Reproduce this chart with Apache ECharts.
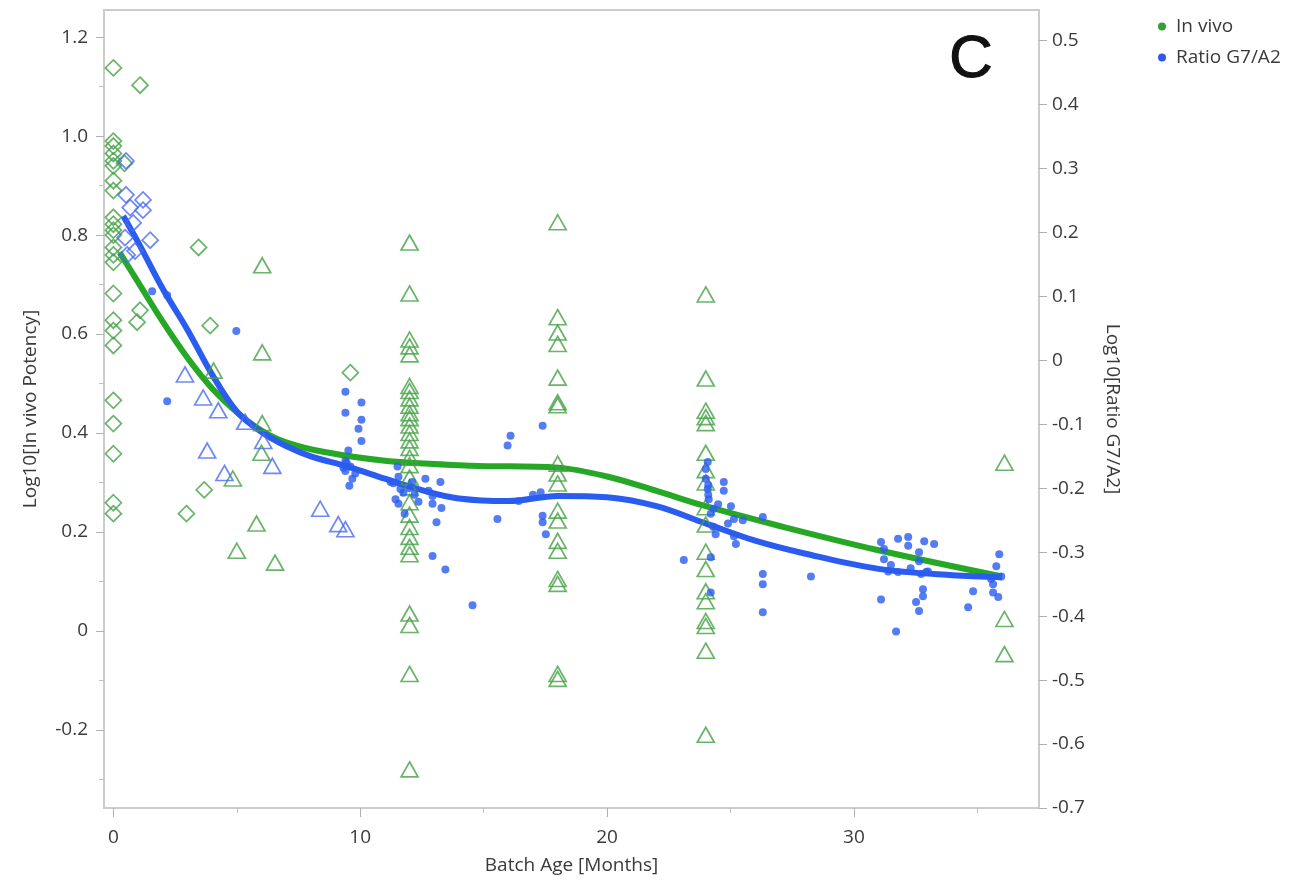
<!DOCTYPE html>
<html><head><meta charset="utf-8">
<script src="https://cdn.jsdelivr.net/npm/echarts@6/dist/echarts.min.js"></script>
<style>html,body{margin:0;padding:0;background:#fff}#c{width:1305px;height:880px}</style>
</head><body><div id="c"></div>
<script>
// ---- tick labels ----
const xTicks = [0, 10, 20, 30];
const xMinorTicks = [5, 15, 25, 35];
const leftTicks = [-0.2, 0, 0.2, 0.4, 0.6, 0.8, 1.0, 1.2];
const leftMinorTicks = [-0.3, -0.1, 0.1, 0.3, 0.5, 0.7, 0.9, 1.1];
const rightTicks = [-0.7, -0.6, -0.5, -0.4, -0.3, -0.2, -0.1, 0, 0.1, 0.2, 0.3, 0.4, 0.5];

// ---- In vivo (left axis) ----
const invivoDiamonds = [
  [0,1.138],[0,0.99],[0,0.98],[0,0.965],[0,0.95],[0,0.94],[0,0.91],[0,0.89],[0,0.836],[0,0.822],
  [0,0.81],[0,0.80],[0,0.775],[0,0.76],[0,0.745],[0,0.682],[0,0.628],[0,0.607],[0,0.577],[0,0.466],
  [0,0.419],[0,0.358],[0,0.259],[0,0.237],
  [1.08,1.103],[3.45,0.775],[3.92,0.617],[0.96,0.624],[1.08,0.648],[2.96,0.237],[3.68,0.285],[9.6,0.522],[0.45,0.945]
];
const invivoTriangles = [
  [6.03,0.739],[6.03,0.563],[4.06,0.526],[6.03,0.42],[6.0,0.36],[4.84,0.308],[5.8,0.217],[5.0,0.162],[6.55,0.138],
  [12,0.785],[12,0.682],[12,0.589],[12,0.575],[12,0.559],[12,0.495],[12,0.485],[12,0.47],[12,0.455],[12,0.44],
  [12,0.43],[12,0.415],[12,0.40],[12,0.385],[12,0.37],[12,0.35],[12,0.335],[12,0.31],[12,0.29],[12,0.26],
  [12,0.235],[12,0.21],[12,0.19],[12,0.17],[12,0.155],[12,0.035],[12,0.012],[12,-0.087],[12,-0.28],
  [18,0.826],[18,0.634],[18,0.603],[18,0.58],[18,0.512],[18,0.462],[18,0.456],[18,0.338],[18,0.318],[18,0.298],
  [18,0.243],[18,0.223],[18,0.182],[18,0.162],[18,0.105],[18,0.095],[18,-0.087],[18,-0.097],
  [24,0.68],[24,0.51],[24,0.445],[24,0.432],[24,0.42],[24,0.36],[24,0.325],[24,0.30],[24,0.25],[24,0.215],
  [24,0.16],[24,0.125],[24,0.08],[24,0.06],[24,0.02],[24,0.01],[24,-0.04],[24,-0.21],
  [36.1,0.34],[36.1,0.024],[36.1,-0.047]
];
const invivoFit = [
  [0.25,0.765],[1.0,0.705],[2.0,0.625],[3.0,0.552],[4.0,0.490],[5.0,0.442],[6.0,0.405],[7.0,0.381],[8.5,0.362],
  [11.0,0.344],[14.5,0.334],[18.0,0.330],[20.0,0.312],[22.0,0.283],[24.0,0.252],[27.0,0.212],[31.0,0.163],[36.0,0.110]
];

// ---- Ratio G7/A2 (right axis) ----
const ratioDiamonds = [
  [0.51,0.312],[0.51,0.259],[1.2,0.251],[0.68,0.239],[1.2,0.235],[0.8,0.215],[1.49,0.188],[0.47,0.192],[0.88,0.171],[0.56,0.165]
];
const ratioTriangles = [
  [2.9,-0.022],[3.64,-0.058],[4.25,-0.078],[3.8,-0.141],[4.5,-0.176],[6.44,-0.165],[5.34,-0.096],[6.07,-0.126],
  [8.38,-0.232],[9.11,-0.256],[9.4,-0.264]
];
const ratioDots = [
  [1.57,0.108],[2.18,0.102],[2.18,-0.064],[4.98,0.046],
  [9.40,-0.049],[10.05,-0.066],[9.40,-0.082],[10.05,-0.093],[9.93,-0.107],[10.05,-0.126],[9.52,-0.141],[9.40,-0.157],
  [9.60,-0.166],[9.40,-0.173],[9.80,-0.177],[9.68,-0.185],[9.56,-0.196],[9.32,-0.168],[9.45,-0.16],
  [11.51,-0.166],[11.55,-0.182],[11.35,-0.192],[11.63,-0.201],[11.75,-0.207],[11.43,-0.217],[11.55,-0.224],[12.2,-0.210],
  [12.36,-0.221],[12.64,-0.185],[12.77,-0.204],[12.93,-0.212],[12.93,-0.224],[13.25,-0.190],[13.29,-0.231],[13.09,-0.253],
  [12.93,-0.306],[13.45,-0.327],[14.55,-0.383],[11.23,-0.19],[12.0,-0.2],[12.1,-0.19],[11.8,-0.24],
  [15.56,-0.248],[16.09,-0.118],[15.97,-0.133],[17.39,-0.102],[17.39,-0.243],[17.39,-0.253],[17.52,-0.272],[17.31,-0.206],
  [16.42,-0.220],[17.0,-0.21],
  [24.08,-0.159],[24.0,-0.185],[24.08,-0.201],[24.12,-0.217],[24.73,-0.190],[24.73,-0.204],[25.02,-0.228],[24.32,-0.232],
  [25.14,-0.248],[25.14,-0.275],[25.22,-0.287],[24.4,-0.272],[24.2,-0.308],[24.2,-0.363],[26.31,-0.245],[26.31,-0.334],
  [26.31,-0.350],[26.31,-0.394],[28.26,-0.338],[23.11,-0.312],[24.1,-0.21],[24.2,-0.24],[24.5,-0.225],[24.9,-0.255],
  [24.3,-0.26],[25.5,-0.25],[24.0,-0.17],[24.1,-0.195],
  [31.1,-0.284],[31.22,-0.295],[31.79,-0.279],[32.2,-0.276],[32.2,-0.290],[32.85,-0.283],[33.25,-0.287],[32.64,-0.300],
  [32.64,-0.314],[31.22,-0.311],[31.39,-0.330],[31.79,-0.331],[32.72,-0.334],[32.93,-0.331],[32.8,-0.358],[32.8,-0.369],
  [32.52,-0.378],[32.64,-0.392],[31.1,-0.374],[31.71,-0.424],[34.83,-0.361],[34.63,-0.386],[35.89,-0.303],[35.77,-0.322],
  [35.97,-0.338],[35.56,-0.342],[35.64,-0.363],[35.85,-0.370],[35.64,-0.350],[31.5,-0.32],[32.3,-0.325],[33.0,-0.33]
];
const ratioFit = [
  [0.40,0.226],[1.0,0.185],[2.0,0.112],[3.0,0.048],[4.0,-0.022],[5.0,-0.080],[6.0,-0.112],[7.0,-0.134],[8.0,-0.150],
  [9.5,-0.166],[11.0,-0.185],[12.5,-0.203],[14.0,-0.216],[16.0,-0.220],[18.0,-0.212],[20.0,-0.214],[22.0,-0.228],
  [24.0,-0.255],[26.0,-0.282],[28.0,-0.302],[31.0,-0.326],[34.0,-0.336],[36.0,-0.339]
];

const GREEN = '#26a826', GREEN_MK = '#45a045', BLUE = '#2b5cf0', BLUE_MK = '#4a6cf0';
const TXT = '#3a3a3a', FONT = 'Open Sans';
const fmt = v => (Math.abs(v) < 1e-9 ? '0' : v.toFixed(1));

const chart = echarts.init(document.getElementById('c'), null, {renderer: 'canvas'});
chart.setOption({
  animation: false,
  backgroundColor: '#fff',
  grid: {left: 104, right: 266, top: 10, bottom: 72, show: true, borderColor: '#cccccc', borderWidth: 2},
  legend: {
    orient: 'vertical', left: 1153, top: 12, itemWidth: 18, itemHeight: 8, itemGap: 12, icon: 'circle',
    textStyle: {fontSize: 19, color: TXT, fontFamily: FONT},
    data: [{name: 'In vivo', itemStyle: {color: '#33a033'}}, {name: 'Ratio G7/A2', itemStyle: {color: '#3358e8'}}]
  },
  graphic: [{type: 'text', x: 971, y: 60, style: {text: 'C', fontSize: 60, fontFamily: 'Liberation Sans', fill: '#111', stroke: '#111', lineWidth: 1.2, align: 'center', verticalAlign: 'middle'}}],
  xAxis: [
    {type: 'value', min: -0.38, max: 37.5, position: 'bottom',
     axisLine: {onZero: false, lineStyle: {color: '#cccccc', width: 2}},
     axisTick: {customValues: xTicks, length: 9, lineStyle: {color: '#b0b0b0'}},
     axisLabel: {customValues: xTicks, margin: 20, color: TXT, fontSize: 19, fontFamily: FONT},
     splitLine: {show: false},
     name: 'Batch Age [Months]', nameLocation: 'middle', nameGap: 48,
     nameTextStyle: {fontSize: 19, color: TXT, fontFamily: FONT}},
    {type: 'value', min: -0.38, max: 37.5, position: 'bottom',
     axisLine: {show: false, onZero: false}, axisTick: {customValues: xMinorTicks, length: 5, lineStyle: {color: '#c0c0c0'}},
     axisLabel: {show: false}, splitLine: {show: false}}
  ],
  yAxis: [
    {type: 'value', min: -0.358, max: 1.255, position: 'left',
     axisLine: {show: true, onZero: false, lineStyle: {color: '#cccccc', width: 2}},
     axisTick: {show: true, customValues: leftTicks, length: 8, lineStyle: {color: '#b0b0b0'}},
     axisLabel: {customValues: leftTicks, formatter: fmt, margin: 16, color: TXT, fontSize: 19, fontFamily: FONT},
     splitLine: {show: false},
     name: 'Log10[In vivo Potency]', nameLocation: 'middle', nameRotate: 90, nameGap: 64,
     nameTextStyle: {fontSize: 19, color: TXT, fontFamily: FONT}},
    {type: 'value', min: -0.7, max: 0.548, position: 'right',
     axisLine: {show: true, onZero: false, lineStyle: {color: '#cccccc', width: 2}},
     axisTick: {show: true, customValues: rightTicks, length: 8, lineStyle: {color: '#b0b0b0'}},
     axisLabel: {customValues: rightTicks, formatter: fmt, margin: 13, color: TXT, fontSize: 19, fontFamily: FONT},
     splitLine: {show: false},
     name: 'Log10[Ratio G7/A2]', nameLocation: 'middle', nameRotate: -90, nameGap: 64,
     nameTextStyle: {fontSize: 19, color: TXT, fontFamily: FONT}},
    {type: 'value', min: -0.358, max: 1.255, position: 'left',
     axisLine: {show: false, onZero: false}, axisTick: {show: true, customValues: leftMinorTicks, length: 5, lineStyle: {color: '#c0c0c0'}},
     axisLabel: {show: false}, splitLine: {show: false}}
  ],
  series: [
    {name: 'In vivo', type: 'line', xAxisIndex: 0, yAxisIndex: 0, data: invivoFit, smooth: 0.35, symbol: 'none',
     lineStyle: {color: GREEN, width: 6}, itemStyle: {color: GREEN}, z: 3},
    {name: 'Ratio G7/A2', type: 'line', xAxisIndex: 0, yAxisIndex: 1, data: ratioFit, smooth: 0.35, symbol: 'none',
     lineStyle: {color: BLUE, width: 6}, itemStyle: {color: BLUE}, z: 4},
    {name: 'In vivo', type: 'scatter', xAxisIndex: 0, yAxisIndex: 0, data: invivoDiamonds, symbol: 'diamond', symbolSize: 16,
     itemStyle: {color: 'rgba(0,0,0,0)', borderColor: GREEN_MK, borderWidth: 1.7}, z: 5},
    {name: 'In vivo', type: 'scatter', xAxisIndex: 0, yAxisIndex: 0, data: invivoTriangles, symbol: 'triangle', symbolSize: [17, 15],
     itemStyle: {color: 'rgba(0,0,0,0)', borderColor: GREEN_MK, borderWidth: 1.7}, z: 5},
    {name: 'Ratio G7/A2', type: 'scatter', xAxisIndex: 0, yAxisIndex: 1, data: ratioDiamonds, symbol: 'diamond', symbolSize: 16,
     itemStyle: {color: 'rgba(0,0,0,0)', borderColor: BLUE_MK, borderWidth: 1.7}, z: 5},
    {name: 'Ratio G7/A2', type: 'scatter', xAxisIndex: 0, yAxisIndex: 1, data: ratioTriangles, symbol: 'triangle', symbolSize: [17, 15],
     itemStyle: {color: 'rgba(0,0,0,0)', borderColor: BLUE_MK, borderWidth: 1.7}, z: 5},
    {name: 'Ratio G7/A2', type: 'scatter', xAxisIndex: 0, yAxisIndex: 1, data: ratioDots, symbol: 'circle', symbolSize: 8,
     itemStyle: {color: BLUE}, z: 6}
  ]
});
</script></body></html>
